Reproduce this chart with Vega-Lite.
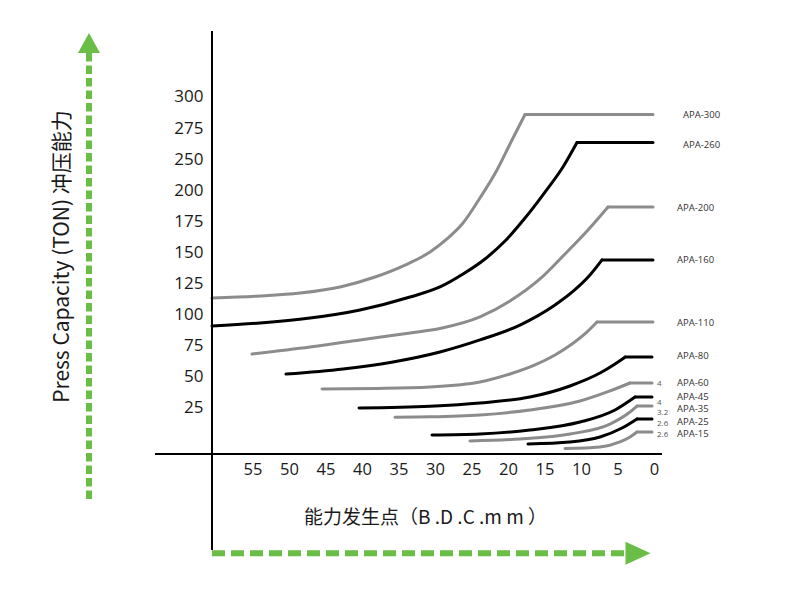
{
  "$schema": "https://vega.github.io/schema/vega-lite/v6.json",
  "width": 800,
  "height": 600,
  "autosize": "none",
  "padding": 0,
  "background": "white",
  "config": {"view": {"stroke": null}},
  "datasets": {
    "curves": [
      {"model": "APA-300", "part": "rise", "mm": 60.55, "ton": 113.4},
      {"model": "APA-300", "part": "rise", "mm": 53.97, "ton": 115.0},
      {"model": "APA-300", "part": "rise", "mm": 48.49, "ton": 117.4},
      {"model": "APA-300", "part": "rise", "mm": 43.01, "ton": 122.3},
      {"model": "APA-300", "part": "rise", "mm": 38.22, "ton": 130.3},
      {"model": "APA-300", "part": "rise", "mm": 34.11, "ton": 139.9},
      {"model": "APA-300", "part": "rise", "mm": 30.68, "ton": 150.4},
      {"model": "APA-300", "part": "rise", "mm": 28.36, "ton": 160.9},
      {"model": "APA-300", "part": "rise", "mm": 26.16, "ton": 173.7},
      {"model": "APA-300", "part": "rise", "mm": 23.84, "ton": 193.8},
      {"model": "APA-300", "part": "rise", "mm": 21.51, "ton": 216.3},
      {"model": "APA-300", "part": "rise", "mm": 19.59, "ton": 238.8},
      {"model": "APA-300", "part": "rise", "mm": 17.67, "ton": 260.9},
      {"model": "APA-300", "part": "rated", "mm": 17.67, "ton": 260.9},
      {"model": "APA-300", "part": "rated", "mm": 0.14, "ton": 260.9},
      {"model": "APA-260", "part": "rise", "mm": 60.55, "ton": 90.9},
      {"model": "APA-260", "part": "rise", "mm": 53.97, "ton": 93.3},
      {"model": "APA-260", "part": "rise", "mm": 47.12, "ton": 97.3},
      {"model": "APA-260", "part": "rise", "mm": 40.27, "ton": 103.8},
      {"model": "APA-260", "part": "rise", "mm": 33.42, "ton": 114.2},
      {"model": "APA-260", "part": "rise", "mm": 29.32, "ton": 122.3},
      {"model": "APA-260", "part": "rise", "mm": 26.16, "ton": 132.7},
      {"model": "APA-260", "part": "rise", "mm": 23.15, "ton": 144.8},
      {"model": "APA-260", "part": "rise", "mm": 20.41, "ton": 159.2},
      {"model": "APA-260", "part": "rise", "mm": 17.67, "ton": 177.7},
      {"model": "APA-260", "part": "rise", "mm": 14.93, "ton": 198.6},
      {"model": "APA-260", "part": "rise", "mm": 12.47, "ton": 218.7},
      {"model": "APA-260", "part": "rise", "mm": 10.55, "ton": 238.4},
      {"model": "APA-260", "part": "rated", "mm": 10.55, "ton": 238.4},
      {"model": "APA-260", "part": "rated", "mm": 0.14, "ton": 238.4},
      {"model": "APA-200", "part": "rise", "mm": 55.07, "ton": 68.4},
      {"model": "APA-200", "part": "rise", "mm": 47.12, "ton": 74.0},
      {"model": "APA-200", "part": "rise", "mm": 40.27, "ton": 79.7},
      {"model": "APA-200", "part": "rise", "mm": 33.42, "ton": 85.3},
      {"model": "APA-200", "part": "rise", "mm": 29.32, "ton": 88.9},
      {"model": "APA-200", "part": "rise", "mm": 23.84, "ton": 98.2},
      {"model": "APA-200", "part": "rise", "mm": 19.73, "ton": 111.0},
      {"model": "APA-200", "part": "rise", "mm": 15.62, "ton": 128.7},
      {"model": "APA-200", "part": "rise", "mm": 12.19, "ton": 148.8},
      {"model": "APA-200", "part": "rise", "mm": 9.04, "ton": 168.1},
      {"model": "APA-200", "part": "rise", "mm": 6.3, "ton": 186.6},
      {"model": "APA-200", "part": "rated", "mm": 6.3, "ton": 186.6},
      {"model": "APA-200", "part": "rated", "mm": 0.14, "ton": 186.6},
      {"model": "APA-160", "part": "rise", "mm": 50.41, "ton": 52.3},
      {"model": "APA-160", "part": "rise", "mm": 42.6, "ton": 56.4},
      {"model": "APA-160", "part": "rise", "mm": 35.75, "ton": 62.0},
      {"model": "APA-160", "part": "rise", "mm": 29.32, "ton": 70.0},
      {"model": "APA-160", "part": "rise", "mm": 23.84, "ton": 79.7},
      {"model": "APA-160", "part": "rise", "mm": 18.36, "ton": 91.7},
      {"model": "APA-160", "part": "rise", "mm": 13.56, "ton": 107.8},
      {"model": "APA-160", "part": "rise", "mm": 10.55, "ton": 121.5},
      {"model": "APA-160", "part": "rise", "mm": 8.77, "ton": 131.9},
      {"model": "APA-160", "part": "rise", "mm": 7.12, "ton": 144.0},
      {"model": "APA-160", "part": "rated", "mm": 7.12, "ton": 144.0},
      {"model": "APA-160", "part": "rated", "mm": 0.14, "ton": 144.0},
      {"model": "APA-110", "part": "rise", "mm": 45.48, "ton": 40.3},
      {"model": "APA-110", "part": "rise", "mm": 37.95, "ton": 40.7},
      {"model": "APA-110", "part": "rise", "mm": 30.68, "ton": 41.9},
      {"model": "APA-110", "part": "rise", "mm": 23.84, "ton": 45.9},
      {"model": "APA-110", "part": "rise", "mm": 19.73, "ton": 52.3},
      {"model": "APA-110", "part": "rise", "mm": 16.3, "ton": 59.6},
      {"model": "APA-110", "part": "rise", "mm": 13.56, "ton": 67.6},
      {"model": "APA-110", "part": "rise", "mm": 11.23, "ton": 76.4},
      {"model": "APA-110", "part": "rise", "mm": 9.32, "ton": 85.3},
      {"model": "APA-110", "part": "rise", "mm": 7.81, "ton": 94.1},
      {"model": "APA-110", "part": "rated", "mm": 7.81, "ton": 94.1},
      {"model": "APA-110", "part": "rated", "mm": 0.14, "ton": 94.1},
      {"model": "APA-80", "part": "rise", "mm": 40.41, "ton": 25.0},
      {"model": "APA-80", "part": "rise", "mm": 30.68, "ton": 26.4},
      {"model": "APA-80", "part": "rise", "mm": 23.84, "ton": 29.0},
      {"model": "APA-80", "part": "rise", "mm": 16.99, "ton": 33.8},
      {"model": "APA-80", "part": "rise", "mm": 11.51, "ton": 42.7},
      {"model": "APA-80", "part": "rise", "mm": 7.4, "ton": 53.1},
      {"model": "APA-80", "part": "rise", "mm": 5.34, "ton": 60.4},
      {"model": "APA-80", "part": "rise", "mm": 3.97, "ton": 65.9},
      {"model": "APA-80", "part": "rated", "mm": 3.97, "ton": 65.9},
      {"model": "APA-80", "part": "rated", "mm": 0.27, "ton": 65.9},
      {"model": "APA-60", "part": "rise", "mm": 35.48, "ton": 17.6},
      {"model": "APA-60", "part": "rise", "mm": 30.68, "ton": 17.9},
      {"model": "APA-60", "part": "rise", "mm": 23.84, "ton": 19.4},
      {"model": "APA-60", "part": "rise", "mm": 16.99, "ton": 23.4},
      {"model": "APA-60", "part": "rise", "mm": 10.14, "ton": 30.6},
      {"model": "APA-60", "part": "rise", "mm": 6.03, "ton": 38.7},
      {"model": "APA-60", "part": "rise", "mm": 3.29, "ton": 45.1},
      {"model": "APA-60", "part": "rated", "mm": 3.29, "ton": 45.1},
      {"model": "APA-60", "part": "rated", "mm": 0.27, "ton": 45.1},
      {"model": "APA-45", "part": "rise", "mm": 30.41, "ton": 3.3},
      {"model": "APA-45", "part": "rise", "mm": 23.84, "ton": 4.1},
      {"model": "APA-45", "part": "rise", "mm": 16.99, "ton": 7.3},
      {"model": "APA-45", "part": "rise", "mm": 10.14, "ton": 13.7},
      {"model": "APA-45", "part": "rise", "mm": 5.34, "ton": 23.4},
      {"model": "APA-45", "part": "rise", "mm": 2.6, "ton": 33.8},
      {"model": "APA-45", "part": "rated", "mm": 2.6, "ton": 33.8},
      {"model": "APA-45", "part": "rated", "mm": 0.27, "ton": 33.8},
      {"model": "APA-35", "part": "rise", "mm": 25.21, "ton": -1.5},
      {"model": "APA-35", "part": "rise", "mm": 18.36, "ton": 0.1},
      {"model": "APA-35", "part": "rise", "mm": 11.51, "ton": 4.1},
      {"model": "APA-35", "part": "rise", "mm": 6.03, "ton": 12.1},
      {"model": "APA-35", "part": "rise", "mm": 3.29, "ton": 21.8},
      {"model": "APA-35", "part": "rise", "mm": 2.33, "ton": 26.6},
      {"model": "APA-35", "part": "rated", "mm": 2.33, "ton": 26.6},
      {"model": "APA-35", "part": "rated", "mm": 0.27, "ton": 26.6},
      {"model": "APA-25", "part": "rise", "mm": 17.26, "ton": -3.9},
      {"model": "APA-25", "part": "rise", "mm": 11.51, "ton": -2.3},
      {"model": "APA-25", "part": "rise", "mm": 7.4, "ton": 1.7},
      {"model": "APA-25", "part": "rise", "mm": 4.38, "ton": 8.9},
      {"model": "APA-25", "part": "rise", "mm": 2.33, "ton": 16.2},
      {"model": "APA-25", "part": "rated", "mm": 2.33, "ton": 16.2},
      {"model": "APA-25", "part": "rated", "mm": 0.27, "ton": 16.2},
      {"model": "APA-15", "part": "rise", "mm": 12.19, "ton": -7.6},
      {"model": "APA-15", "part": "rise", "mm": 7.4, "ton": -6.3},
      {"model": "APA-15", "part": "rise", "mm": 4.66, "ton": -2.3},
      {"model": "APA-15", "part": "rise", "mm": 3.29, "ton": 1.7},
      {"model": "APA-15", "part": "rise", "mm": 2.33, "ton": 5.7},
      {"model": "APA-15", "part": "rated", "mm": 2.33, "ton": 5.7},
      {"model": "APA-15", "part": "rated", "mm": 0.27, "ton": 5.7}
    ],
    "labels": [
      {"model": "APA-300", "mm": -3.97, "ton": 260.5},
      {"model": "APA-260", "mm": -3.97, "ton": 236.4},
      {"model": "APA-200", "mm": -3.15, "ton": 185.8},
      {"model": "APA-160", "mm": -3.15, "ton": 144.0},
      {"model": "APA-110", "mm": -3.15, "ton": 93.3},
      {"model": "APA-80", "mm": -3.15, "ton": 66.8},
      {"model": "APA-60", "mm": -3.15, "ton": 45.1},
      {"model": "APA-45", "mm": -3.15, "ton": 34.2},
      {"model": "APA-35", "mm": -3.15, "ton": 24.2},
      {"model": "APA-25", "mm": -3.15, "ton": 14.1},
      {"model": "APA-15", "mm": -3.15, "ton": 4.1}
    ],
    "notes": [
      {"note": "4", "mm": -0.41, "ton": 44.3},
      {"note": "4", "mm": -0.41, "ton": 29.0},
      {"note": "3.2", "mm": -0.41, "ton": 21.0},
      {"note": "2.6", "mm": -0.41, "ton": 12.1},
      {"note": "2.6", "mm": -0.41, "ton": 3.3}
    ],
    "one": [{}]
  },
  "layer": [
    {
      "data": {"name": "curves"},
      "mark": {"type": "line", "strokeWidth": 3, "strokeCap": "round", "strokeJoin": "round", "interpolate": "monotone"},
      "encoding": {
        "x": {
          "field": "mm", "type": "quantitative",
          "scale": {"type": "linear", "domain": [-20, 89.589], "reverse": true, "nice": false, "zero": false},
          "axis": {
            "orient": "bottom", "offset": -146,
            "values": [0, 5, 10, 15, 20, 25, 30, 35, 40, 45, 50, 55],
            "domain": false, "ticks": false, "tickSize": 0, "grid": false,
            "labelPadding": 15, "labelBaseline": "middle", "labelFontSize": 16.5,
            "labelFont": "Open Sans", "labelColor": "#1a1a1a", "labelFlush": false, "labelOverlap": false,
            "title": "能力发生点（B .D .C .m  m  ）", "titleFont": "Noto Sans CJK SC", "titleFontSize": 19,
            "titleFontWeight": "normal", "titleColor": "#1a1a1a",
            "titleX": 425, "titleY": 63, "titleAlign": "center", "titleBaseline": "middle"
          }
        },
        "y": {
          "field": "ton", "type": "quantitative",
          "scale": {"type": "linear", "domain": [-129.34, 352.97], "nice": false, "zero": false},
          "axis": {
            "orient": "left", "offset": -203,
            "values": [25, 50, 75, 100, 125, 150, 175, 200, 225, 250, 275],
            "labelExpr": "datum.value > 200 ? datum.value + 25 : datum.value",
            "domain": false, "ticks": false, "tickSize": 0, "grid": false,
            "labelPadding": 0, "labelFontSize": 17, "labelFont": "Open Sans", "labelColor": "#1a1a1a",
            "labelAlign": "right", "labelBaseline": "middle", "labelFlush": false, "labelOverlap": false,
            "title": "Press Capacity (TON) 冲压能力", "titleFont": "Noto Sans CJK SC", "titleFontSize": 21,
            "titleFontWeight": "normal", "titleColor": "#1a1a1a",
            "titleX": -141, "titleY": 256, "titleAngle": -90, "titleAlign": "center", "titleBaseline": "middle"
          }
        },
        "detail": {"field": "part", "type": "nominal"},
        "color": {
          "field": "model", "type": "nominal", "legend": null,
          "scale": {
            "domain": ["APA-300", "APA-260", "APA-200", "APA-160", "APA-110", "APA-80", "APA-60", "APA-45", "APA-35", "APA-25", "APA-15"],
            "range": ["#8c8c8c", "#000000", "#8c8c8c", "#000000", "#8c8c8c", "#000000", "#8c8c8c", "#000000", "#8c8c8c", "#000000", "#8c8c8c"]
          }
        }
      }
    },
    {
      "data": {"name": "labels"},
      "mark": {"type": "text", "align": "left", "baseline": "middle", "fontSize": 9.5, "font": "Open Sans", "color": "#333333"},
      "encoding": {
        "x": {"field": "mm", "type": "quantitative"},
        "y": {"field": "ton", "type": "quantitative"},
        "text": {"field": "model"}
      }
    },
    {
      "data": {"name": "notes"},
      "mark": {"type": "text", "align": "left", "baseline": "middle", "fontSize": 8, "font": "Open Sans", "color": "#555555"},
      "encoding": {
        "x": {"field": "mm", "type": "quantitative"},
        "y": {"field": "ton", "type": "quantitative"},
        "text": {"field": "note"}
      }
    },
    {
      "data": {"name": "one"},
      "mark": {"type": "rule", "color": "#000000", "strokeWidth": 2},
      "encoding": {
        "x": {"datum": 60.55, "type": "quantitative"},
        "y": {"datum": 328.1, "type": "quantitative"},
        "y2": {"datum": -89.1}
      }
    },
    {
      "data": {"name": "one"},
      "mark": {"type": "rule", "color": "#000000", "strokeWidth": 2},
      "encoding": {
        "x": {"datum": 68.36, "type": "quantitative"},
        "x2": {"datum": -1.1},
        "y": {"datum": -12.0, "type": "quantitative"}
      }
    },
    {
      "data": {"name": "one"},
      "mark": {"type": "rule", "color": "#6abd45", "strokeWidth": 6, "strokeDash": [8.5, 4]},
      "encoding": {
        "x": {"datum": 77.4, "type": "quantitative"},
        "y": {"datum": 310.4, "type": "quantitative"},
        "y2": {"datum": -51.4}
      }
    },
    {
      "data": {"name": "one"},
      "mark": {"type": "point", "filled": true, "opacity": 1, "color": "#6abd45", "shape": "M0,-1L1.1,1L-1.1,1Z", "size": 400},
      "encoding": {
        "x": {"datum": 77.4, "type": "quantitative"},
        "y": {"datum": 318.4, "type": "quantitative"}
      }
    },
    {
      "data": {"name": "one"},
      "mark": {"type": "rule", "color": "#6abd45", "strokeWidth": 6, "strokeDash": [13, 6]},
      "encoding": {
        "x": {"datum": 60.55, "type": "quantitative"},
        "x2": {"datum": 4.11},
        "y": {"datum": -91.7, "type": "quantitative"}
      }
    },
    {
      "data": {"name": "one"},
      "mark": {"type": "point", "filled": true, "opacity": 1, "color": "#6abd45", "shape": "M-1,-0.92L1,0L-1,0.92Z", "size": 625},
      "encoding": {
        "x": {"datum": 2.19, "type": "quantitative"},
        "y": {"datum": -91.7, "type": "quantitative"}
      }
    }
  ]
}
